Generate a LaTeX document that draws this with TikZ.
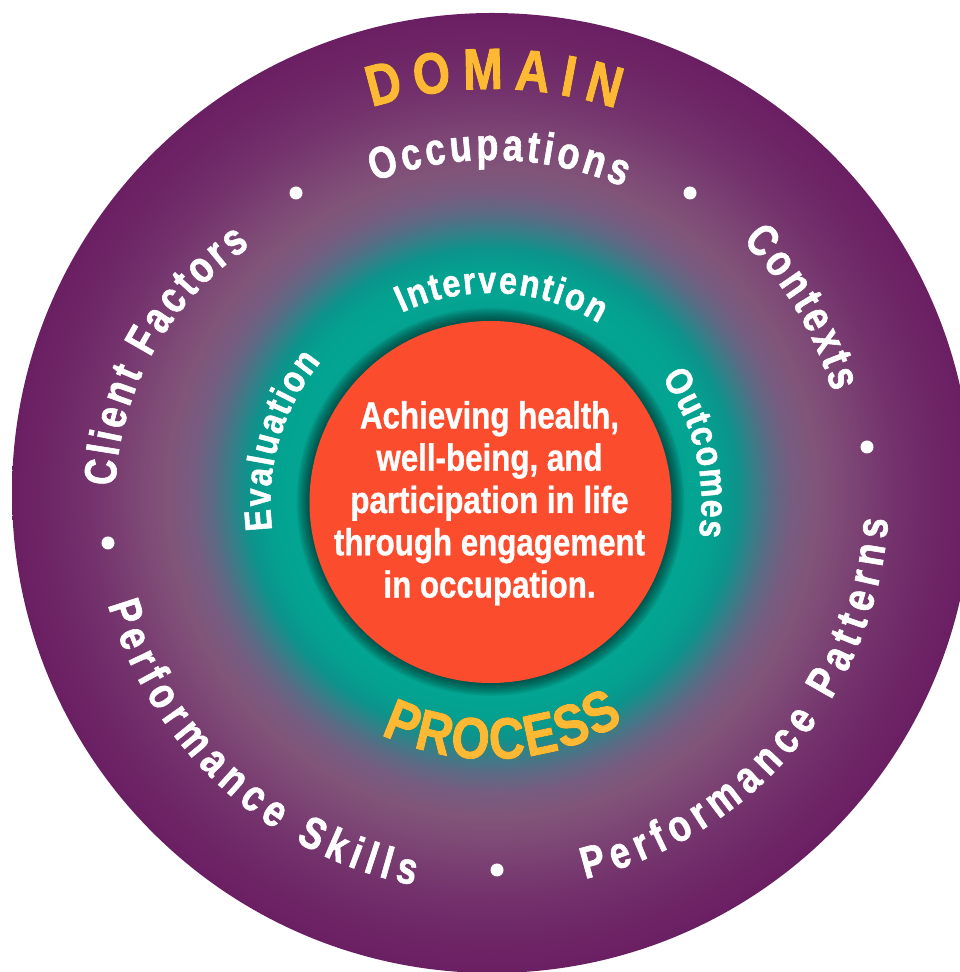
\documentclass[tikz,border=0pt]{standalone}
\usepackage{fontspec}
\newfontfamily\fCenter{Liberation Sans Bold}[FakeStretch=0.83,FakeBold=0.8]
\newfontfamily\fOuter{Liberation Sans Bold}[FakeStretch=0.8,FakeBold=1.3]
\newfontfamily\fRing{Liberation Sans Bold}[FakeStretch=0.85,FakeBold=1.2]
\newfontfamily\fDomain{Liberation Sans Bold}[FakeStretch=0.82,FakeBold=1.6]
\newfontfamily\fProcess{Liberation Sans Bold}[FakeStretch=0.85,FakeBold=1.6]
\newcommand\sCenter{\fCenter\fontsize{37.7}{42.3}\selectfont}
\newcommand\sOuter{\fOuter\fontsize{45}{45}\selectfont}
\newcommand\sInner{\fRing\fontsize{38}{38}\selectfont}
\newcommand\sDomain{\fDomain\fontsize{58}{58}\selectfont}
\newcommand\sProcess{\fProcess\fontsize{58}{58}\selectfont}
\definecolor{ringred}{HTML}{FC4C2E}
\definecolor{gold}{HTML}{FDB933}
\definecolor{tealA}{HTML}{05A090}
\definecolor{tealB}{HTML}{03A592}
\definecolor{tealC}{HTML}{04A090}
\definecolor{tealD}{HTML}{0C938B}
\definecolor{slateA}{HTML}{357F88}
\definecolor{slateB}{HTML}{5C6A84}
\definecolor{mauveA}{HTML}{775C80}
\definecolor{mauveB}{HTML}{815479}
\definecolor{purpA}{HTML}{7C4574}
\definecolor{purpB}{HTML}{74336D}
\definecolor{purpC}{HTML}{6E2767}
\definecolor{purpD}{HTML}{6B1F63}
\pgfdeclareradialshading{ringshade}{\pgfpoint{0bp}{0bp}}{%
color(0bp)=(tealA); color(9.48bp)=(tealA); color(10.42bp)=(tealB);
color(11.72bp)=(tealC); color(12.76bp)=(tealD); color(13.65bp)=(slateA);
color(14.58bp)=(slateB); color(15.63bp)=(mauveA); color(16.93bp)=(mauveB);
color(18.75bp)=(purpA); color(20.83bp)=(purpB); color(22.92bp)=(purpC);
color(25bp)=(purpD); color(50bp)=(purpD)}
\newdimen\arcw
\newdimen\arcpos
\newbox\arcbox
% #1 centre, #2 baseline radius, #3 compass angle of middle (clockwise from top),
% #4 direction (1 clockwise, tops outward; -1 counter-clockwise, tops inward),
% #5 font, #6 colour, #7 extra letter gap (pt), #8 comma list of characters
\newcommand\arctext[8]{%
  \global\arcw=0pt
  \foreach \ch in {#8}{%
    \pgfinterruptpicture\global\setbox\arcbox=\hbox{#5\ch}\endpgfinterruptpicture
    \global\advance\arcw by \wd\arcbox\global\advance\arcw by #7pt}%
  \global\advance\arcw by -#7pt
  \global\arcpos=0pt
  \foreach \ch in {#8}{%
    \pgfinterruptpicture\global\setbox\arcbox=\hbox{#5\ch}\endpgfinterruptpicture
    \edef\arccw{\the\wd\arcbox}%
    \edef\arcs{\the\dimexpr\arcpos+\wd\arcbox/2-\arcw/2\relax}%
    \pgfmathsetmacro\arca{90-(#3)-(#4)*(\arcs)/(#2)*57.29578}%
    \pgfmathsetmacro\arcr{\arca-90*(#4)}%
    \path (#1) ++(\arca:#2) node[anchor=base, inner sep=0pt, outer sep=0pt, rotate=\arcr, text=#6, font=#5] {\ch};
    \global\advance\arcpos by \arccw
    \global\advance\arcpos by #7pt
  }%
}
\tikzset{bullet/.style={circle, fill=white, minimum size=13pt, inner sep=0pt}}
\begin{document}
\begin{tikzpicture}[x=1pt,y=1pt]
\useasboundingbox (0,0) rectangle (960,972);
\clip (0,0) rectangle (960,972);
\coordinate (O) at (492,479);
\coordinate (R) at (490.5,470);
\coordinate (CF) at (420,472);
\shade[shading=ringshade] (O) circle[radius=480];
% shadow of the red disc
\foreach \k in {1,...,8} \fill[black,opacity=0.07] (R) circle[radius={181+1.6*\k}];
\fill[ringred] (R) circle[radius=181];
\node[text=white, align=center, inner sep=0pt, font=\sCenter] (goal) at (489.5,468.75)
  {Achieving health,\\ well-being, and\\ participation in life\\ through engagement\\ in occupation.};
% DOMAIN
\begin{scope}[opacity=0.5, shift={(3,-4)}]
\arctext{O}{404}{0.3}{1}{\sDomain}{black}{11}{D,O,M,A,I,N}
\end{scope}
\arctext{O}{404}{0.3}{1}{\sDomain}{gold}{11}{D,O,M,A,I,N}
% outer ring
\arctext{O}{333}{1.25}{1}{\sOuter}{white}{3.74}{O,c,c,u,p,a,t,i,o,n,s}
\arctext{O}{355}{59.15}{1}{\sOuter}{white}{3.34}{C,o,n,t,e,x,t,s}
\arctext{CF}{305}{-60.6}{1}{\sOuter}{white}{3.49}{C,l,i,e,n,t,~,F,a,c,t,o,r,s}
\arctext{O}{400}{222.5}{-1}{\sOuter}{white}{6.6}{P,e,r,f,o,r,m,a,n,c,e,~,S,k,i,l,l,s}
\arctext{O}{397}{130.1}{-1}{\sOuter}{white}{6.8}{P,e,r,f,o,r,m,a,n,c,e,~,P,a,t,t,e,r,n,s}
\node[bullet] (d1) at (296,779) {};
\node[bullet] (d2) at (690,779) {};
\node[bullet] (d3) at (867,525) {};
\node[bullet] (d4) at (497,102) {};
\node[bullet] (d5) at (108,429) {};
% inner ring
\arctext{R}{209}{3.1}{1}{\sInner}{white}{1.9}{I,n,t,e,r,v,e,n,t,i,o,n}
\arctext{R}{211}{76.7}{1}{\sInner}{white}{1.3}{O,u,t,c,o,m,e,s}
\arctext{R}{220}{-73.85}{1}{\sInner}{white}{1.9}{E,v,a,l,u,a,t,i,o,n}
% PROCESS
\begin{scope}[opacity=0.5, shift={(3,-4)}]
\arctext{R}{257}{177}{-1}{\sProcess}{black}{2.1}{P,R,O,C,E,S,S}
\end{scope}
\arctext{R}{257}{177}{-1}{\sProcess}{gold}{2.1}{P,R,O,C,E,S,S}
\end{tikzpicture}
\end{document}
